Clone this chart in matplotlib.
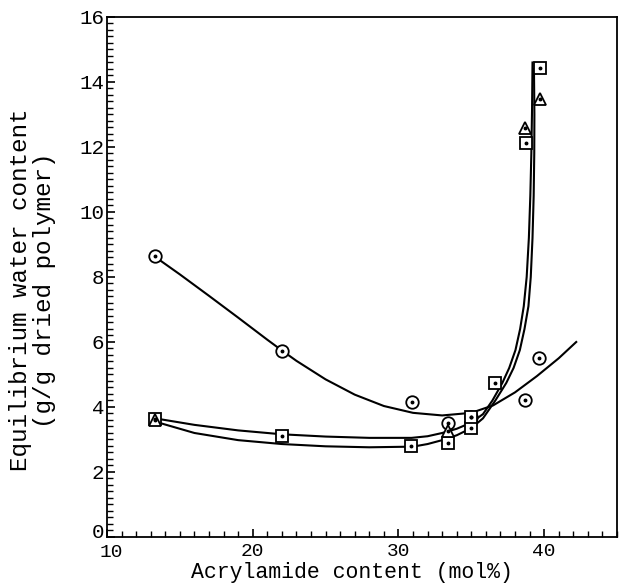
import matplotlib
matplotlib.use("Agg")
import matplotlib.pyplot as plt
from matplotlib.ticker import MultipleLocator
from matplotlib.transforms import ScaledTranslation

# ---- data ----
circle_x = [13.3, 22.0, 30.9, 33.4, 35.0, 38.7, 39.65]
circle_y = [8.65, 5.72, 4.15, 3.50, 3.70, 4.20, 5.50]

square_x = [13.3, 22.0, 30.85, 33.4, 35.0, 35.0, 36.65, 38.75, 39.7]
square_y = [3.63, 3.10, 2.80, 2.90, 3.35, 3.70, 4.74, 12.12, 14.43]

triangle_x = [13.3, 33.4, 38.7, 39.7]
triangle_y = [3.60, 3.27, 12.58, 13.48]

# fitted curves
fit_circle_x = [13.3, 15.0, 17.0, 19.0, 21.0, 22.0, 23.0, 25.0, 27.0, 29.0,
                31.0, 33.0, 35.0, 36.5, 38.0, 39.5, 41.0, 42.2]
fit_circle_y = [8.62, 8.08, 7.42, 6.75, 6.07, 5.74, 5.42, 4.85, 4.38, 4.03,
                3.82, 3.74, 3.82, 4.05, 4.45, 4.95, 5.50, 6.00]

fit_square_x = [13.3, 16.0, 19.0, 22.0, 25.0, 28.0, 30.9, 32.0, 33.0, 34.0,
                35.0, 35.8, 36.45, 37.13, 37.6, 38.03, 38.35, 38.6, 38.8,
                38.95, 39.05, 39.12, 39.17, 39.2]
fit_square_y = [3.65, 3.45, 3.28, 3.16, 3.09, 3.05, 3.05, 3.10, 3.20, 3.33,
                3.52, 3.78, 4.20, 4.74, 5.20, 5.75, 6.40, 7.10, 8.00,
                9.20, 10.50, 11.80, 13.20, 14.60]

fit_triangle_x = [13.3, 16.0, 19.0, 22.0, 25.0, 28.0, 31.0, 32.0, 33.0, 34.0,
                  35.0, 35.8, 36.65, 37.4, 37.9, 38.33, 38.65, 38.92, 39.08,
                  39.2, 39.28, 39.32, 39.33, 39.3]
fit_triangle_y = [3.55, 3.20, 2.98, 2.86, 2.79, 2.76, 2.78, 2.86, 2.98, 3.13,
                  3.35, 3.65, 4.20, 4.74, 5.20, 5.75, 6.40, 7.10, 8.00,
                  9.20, 10.50, 11.80, 13.00, 14.40]

x_ticks = [10, 20, 30, 40]
y_ticks = [0, 2, 4, 6, 8, 10, 12, 14, 16]

FONT = "Liberation Mono"

fig = plt.figure(figsize=(6.21, 5.84), dpi=100)
ax = fig.add_axes([0.1723, 0.0805, 0.8213, 0.8904])

lw = 1.5
ax.plot(fit_circle_x, fit_circle_y, color="black", lw=lw, zorder=2)
ax.plot(fit_square_x, fit_square_y, color="black", lw=lw, zorder=2)
ax.plot(fit_triangle_x, fit_triangle_y, color="black", lw=lw, zorder=2)

mk = dict(linestyle="none", markerfacecolor="white", markeredgecolor="black",
          markeredgewidth=1.3, zorder=3)
ax.plot(circle_x, circle_y, marker="o", markersize=9, **mk)
ax.plot(square_x, square_y, marker="s", markersize=8, **mk)
ax.plot(triangle_x, triangle_y, marker="^", markersize=9, **mk)
for xs, ys in ((circle_x, circle_y), (square_x, square_y), (triangle_x, triangle_y)):
    ax.plot(xs, ys, linestyle="none", marker="o", markersize=1.8,
            color="black", zorder=4)

ax.set_xlim(10, 45)
ax.set_ylim(0, 16)
ax.set_xticks(x_ticks)
ax.set_yticks(y_ticks)
ax.set_xticklabels([str(v) for v in x_ticks], fontfamily=FONT, fontsize=14)
ax.set_yticklabels([str(v) for v in y_ticks], fontfamily=FONT, fontsize=15)
ax.xaxis.set_minor_locator(MultipleLocator(1))
ax.yaxis.set_minor_locator(MultipleLocator(0.2))
ax.tick_params(axis="both", which="major", direction="in", length=6,
               width=1.2, top=False, right=False, colors="black")
ax.tick_params(axis="both", which="minor", direction="in", length=4.5,
               width=1.0, top=False, right=False)
ax.tick_params(axis="x", which="major", pad=4)
ax.tick_params(axis="y", which="major", pad=2)

# nudge the corner labels apart ("0" up, "10" right) as in the reference
lab0 = ax.get_yticklabels()[0]
lab0.set_transform(lab0.get_transform() + ScaledTranslation(0, 5 / 72, fig.dpi_scale_trans))
lab10 = ax.get_xticklabels()[0]
lab10.set_transform(lab10.get_transform() + ScaledTranslation(3 / 72, -1 / 72, fig.dpi_scale_trans))

for sp in ax.spines.values():
    sp.set_linewidth(1.3)
    sp.set_color("black")

ax.set_xlabel("Acrylamide content (mol%)", fontfamily=FONT, fontsize=15.5,
              va="bottom")
ax.xaxis.set_label_coords(0.48, -0.089)
ax.set_ylabel("Equilibrium water content\n(g/g dried polymer)",
              fontfamily=FONT, fontsize=17.5, linespacing=1.05)
ax.yaxis.set_label_coords(-0.1, 0.475)

fig.savefig("out.png", dpi=100)
